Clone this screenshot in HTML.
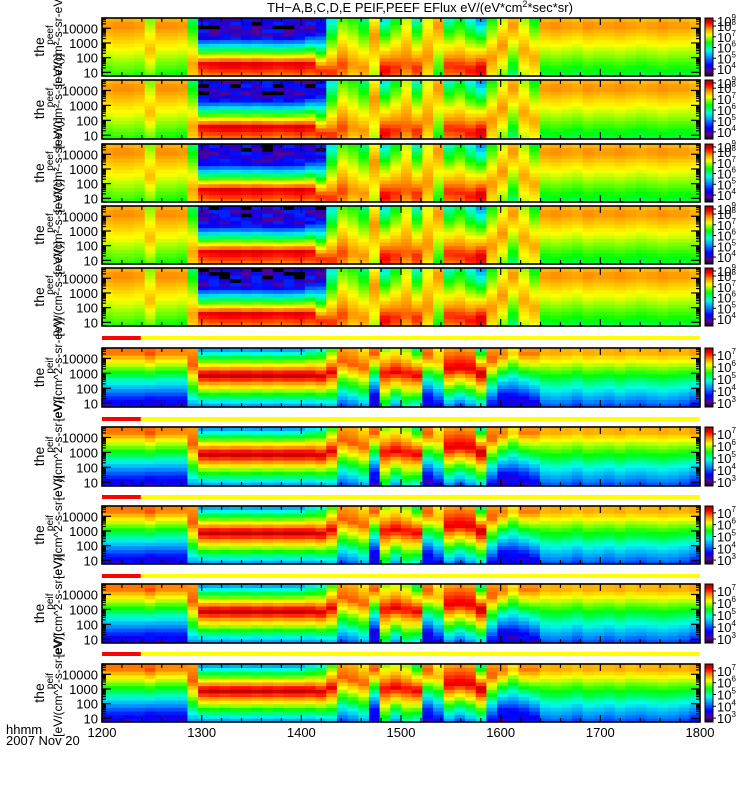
<!DOCTYPE html>
<html><head><meta charset="utf-8">
<style>
html,body{margin:0;padding:0;background:#fff;}
svg{display:block;font-family:"Liberation Sans",sans-serif;}
</style></head>
<body>
<svg id="chart" width="750" height="800" viewBox="0 0 750 800" xmlns="http://www.w3.org/2000/svg">
<text x="420" y="12" font-size="13" text-anchor="middle">TH−A,B,C,D,E PEIF,PEEF EFlux eV/(eV*cm<tspan font-size="9" dy="-5">2</tspan><tspan dy="5">*sec*sr)</tspan></text>
<g id="layers"></g>
<text x="6" y="734" font-size="13">hhmm</text>
<text x="6" y="745" font-size="13">2007 Nov 20</text>
</svg>
<script>
// ---- data ----
const timeStart = 1200, timeEnd = 1800;
const xTickLabels = [1200,1300,1400,1500,1600,1700,1800];
const nCols = 56;
// ion spectra per time column: peak log energy, peak log eflux, low-side slope, high-side slope
const ionPeak = [4.2,4.2,4.2,4.2,2.5,4.2,4.2,4.2,1.6,1.6,1.6,1.6,1.6,1.6,1.6,1.6,1.6,1.6,1.6,1.6,1.2,1.0,1.5,1.5,1.3,3.5,1.2,1.3,1.5,1.3,2.0,4.2,1.5,1.4,1.2,1.3,2.0,2.8,4.2,2.5,2.0,4.2,4.2,4.2,4.2,4.2,4.2,4.2,4.2,4.2,4.2,4.2,4.2,4.2,4.2,4.2];
const ionAmp  = [7.8,7.85,7.85,7.8,7.6,7.85,7.85,7.8,7.7,8.4,8.45,8.5,8.5,8.45,8.5,8.45,8.4,8.45,8.5,8.4,8.2,8.2,8.1,7.8,7.8,7.8,8.4,8.2,8.0,8.2,7.8,7.8,8.2,8.2,8.3,8.5,7.8,7.8,7.8,7.7,7.7,7.8,7.85,7.8,7.75,7.85,7.8,7.8,7.85,7.8,7.75,7.8,7.85,7.8,7.8,7.7];
const ionLow  = [0.37,0.37,0.37,0.37,0.5,0.4,0.4,0.4,0.3,0.75,0.75,0.75,0.75,0.75,0.75,0.75,0.75,0.75,0.75,0.7,0.6,0.6,0.5,0.5,0.5,0.3,0.5,0.5,0.5,0.5,0.4,0.4,0.5,0.5,0.5,0.5,0.4,0.5,0.5,0.4,0.4,0.45,0.45,0.45,0.45,0.45,0.45,0.45,0.45,0.45,0.45,0.45,0.45,0.45,0.45,0.4];
const ionHigh = [0.5,0.5,0.5,0.5,0.35,0.5,0.5,0.5,0.5,2.3,2.3,2.3,2.3,2.3,2.3,2.3,2.3,2.3,2.3,2.0,1.5,0.7,0.45,0.4,0.5,0.5,0.8,0.55,0.3,0.7,0.25,0.5,0.75,0.6,0.75,1.0,0.5,0.4,0.5,0.35,0.5,0.5,0.5,0.5,0.5,0.5,0.5,0.5,0.5,0.5,0.5,0.5,0.5,0.5,0.5,0.5];
// electron spectra per time column
const elePeak = [4.4,4.4,4.4,4.4,4.3,4.4,4.4,4.4,3.5,2.9,2.9,2.9,2.9,2.9,2.9,2.9,2.9,2.9,2.9,2.9,2.8,3.1,3.8,3.6,3.4,4.3,3.0,3.1,3.0,2.9,4.2,3.8,3.3,3.4,3.3,3.0,3.9,4.2,4.3,4.3,4.3,4.4,4.4,4.4,4.4,4.4,4.4,4.4,4.4,4.4,4.4,4.4,4.4,4.4,4.4,4.4];
const eleAmp  = [6.85,6.85,6.85,6.85,6.95,6.8,6.8,6.8,6.9,7.45,7.5,7.45,7.5,7.5,7.45,7.5,7.45,7.5,7.5,7.45,7.4,7.3,6.9,6.9,6.9,6.9,7.2,7.3,7.2,7.3,6.9,6.5,7.3,7.3,7.3,7.5,6.9,6.8,6.4,6.8,6.8,6.6,6.65,6.6,6.55,6.65,6.6,6.6,6.65,6.55,6.6,6.6,6.65,6.6,6.6,6.7];
const eleLow  = [1.0,1.0,1.0,1.0,1.1,1.0,1.0,1.0,0.95,1.5,1.5,1.5,1.5,1.5,1.5,1.5,1.5,1.5,1.5,1.5,1.5,1.2,1.0,1.0,0.95,1.2,0.9,1.3,1.0,1.2,1.2,1.0,1.2,1.3,1.2,1.3,1.1,1.2,1.0,1.1,1.0,0.72,0.72,0.72,0.75,0.72,0.72,0.75,0.72,0.72,0.75,0.72,0.72,0.72,0.75,0.85];
const eleHigh = [0.3,0.3,0.3,0.3,0.3,0.3,0.3,0.3,0.2,1.8,1.8,1.8,1.8,1.8,1.8,1.8,1.8,1.8,1.8,1.6,1.4,1.1,0.3,0.3,0.5,0.3,0.8,0.8,0.8,1.2,0.3,0.3,0.5,0.5,0.5,1.5,0.3,0.3,0.3,0.3,0.3,0.3,0.3,0.3,0.3,0.3,0.3,0.3,0.3,0.3,0.3,0.3,0.3,0.3,0.3,0.3];
const yTickLabels = ["10","100","1000","10000"];
const ionCbarLabels = [4,5,6,7,8,9];
const eleCbarLabels = [3,4,5,6,7];

// ---- layout ----
const X0 = 102, X1 = 700;
const ionPanels = [[18,76],[80,139],[144,202],[206,264],[268,326]];
const elePanels = [[348,407],[427,486],[506,564],[584,643],[664,722]];
const barYs = [336,417,495,574,652];
const eMin = 0.75, eMax = 4.7, nRows = 16;
const ionScale = [3.35, 8.75], eleScale = [2.67, 7.58];

const NS = "http://www.w3.org/2000/svg";
const root = document.getElementById('layers');
function mk(tag, attrs, parent){ const e=document.createElementNS(NS,tag); for(const k in attrs) e.setAttribute(k,attrs[k]); (parent||root).appendChild(e); return e; }
function xScale(t){ return X0 + (t-timeStart)/(timeEnd-timeStart)*(X1-X0); }
function yScale(le, p){ return p[1] - (le-eMin)/(eMax-eMin)*(p[1]-p[0]); }

const stops = [[0,0,0,0],[0.08,90,0,140],[0.2,0,0,255],[0.33,0,140,255],[0.45,0,255,230],[0.58,0,255,0],[0.72,255,255,0],[0.82,255,150,0],[0.92,255,0,0],[1,160,0,0]];
function color(t){
  t=Math.max(0,Math.min(1,t));
  for(let i=1;i<stops.length;i++){ if(t<=stops[i][0]){ const a=stops[i-1],b=stops[i],f=(t-a[0])/(b[0]-a[0]);
    return 'rgb('+Math.round(a[1]+f*(b[1]-a[1]))+','+Math.round(a[2]+f*(b[2]-a[2]))+','+Math.round(a[3]+f*(b[3]-a[3]))+')'; } }
  return 'rgb(160,0,0)';
}
function spec(le, pk, amp, lo, hi){ return le<pk ? amp-lo*(pk-le) : amp-hi*(le-pk); }
const tex = [-0.8, 0.45, 0.0, 0.25, -0.2, 0.55, 0.1];

function drawPanel(p, idx, kind){
  const g = mk('g',{});
  
  
  const isIon = kind==='ion';
  const P = isIon?ionPeak:elePeak, A = isIon?ionAmp:eleAmp, L = isIon?ionLow:eleLow, H = isIon?ionHigh:eleHigh;
  const sc = isIon?ionScale:eleScale;
  const dt = (timeEnd-timeStart)/nCols, de=(eMax-eMin)/nRows;
  for(let i=0;i<nCols;i++){
    const xa = xScale(timeStart+i*dt), xb = xScale(timeStart+(i+1)*dt);
    for(let j=0;j<nRows;j++){
      const le = eMin + (j+0.5)*de;
      let v = spec(le, P[i], A[i], L[i], H[i]);
      if(isIon){ const h=(i*i*3 + j*j*5 + i*j + idx*2 + j)%7; v=Math.max(v, 4.05 + tex[h]); }
      else { const h=(i*5 + j*j*3 + idx)%7; v=Math.max(v, 3.55 + 0.3*tex[h]); }
      const ya = yScale(eMin+(j+1)*de,p), yb = yScale(eMin+j*de,p);
      const r = mk('rect',{x:xa.toFixed(2),y:ya.toFixed(2),width:(xb-xa+0.4).toFixed(2),height:(yb-ya+0.4).toFixed(2),fill:color((v-sc[0])/(sc[1]-sc[0]))},g);
      
      
    }
  }
  const tk = mk('g',{stroke:'#000','stroke-width':1.2},g);
  for(let d=1; d<=4; d++){
    for(let m=1;m<10;m++){
      const le = d + Math.log10(m); if(le<eMin||le>eMax) continue;
      const y = yScale(le,p), len = m===1?9:4;
      mk('line',{x1:X0,y1:y,x2:X0+len,y2:y},tk);
      mk('line',{x1:X1,y1:y,x2:X1-len,y2:y},tk);
    }
  }
  for(let t=timeStart; t<=timeEnd; t+=20){
    const x=xScale(t), len = (t%100===0)?7:4;
    mk('line',{x1:x,y1:p[1],x2:x,y2:p[1]-len},tk);
    mk('line',{x1:x,y1:p[0],x2:x,y2:p[0]+len},tk);
  }
  const fr = mk('rect',{x:X0,y:p[0],width:X1-X0,height:p[1]-p[0],fill:'none',stroke:'#000','stroke-width':1.6},g);
  
  
  yTickLabels.forEach((lab,k)=>{
    const t = mk('text',{x:98,y:(yScale(k+1,p)+5).toFixed(1),'font-size':13,'text-anchor':'end'},g);
    t.textContent = lab;
    
    
  });
  const cy = (p[0]+p[1])/2;
  const yt = mk('g',{transform:'translate(0,'+cy+') rotate(-90)'},g);
  
  
  const t1 = mk('text',{x:0,y:44,'font-size':14,'text-anchor':'middle'},yt); t1.textContent='the';
  const t2 = mk('text',{x:12,y:53,'font-size':10,'text-anchor':'middle'},yt); t2.textContent=isIon?'peef':'peif';
  const t3 = mk('text',{x:8,y:62,'font-size':12,'text-anchor':'middle'},yt); t3.textContent=isIon?'[eV/(cm²-s-sr-eV)]':'[eV/(cm^2-s-sr-eV)]';
  const cb = mk('g',{},g);
  
  
  const N=40;
  for(let k=0;k<N;k++){
    const h=(p[1]-p[0])/N;
    mk('rect',{x:705,y:(p[1]-(k+1)*h).toFixed(2),width:8,height:(h+0.4).toFixed(2),fill:color((k+0.5)/N)},cb);
  }
  mk('rect',{x:705,y:p[0],width:8,height:p[1]-p[0],fill:'none',stroke:'#000','stroke-width':1},cb);
  const labs = isIon?ionCbarLabels:eleCbarLabels;
  labs.forEach(n=>{
    let y = p[1] - (n-sc[0])/(sc[1]-sc[0])*(p[1]-p[0]);
    y = Math.max(y, p[0]+3);
    mk('line',{x1:713,y1:y,x2:716,y2:y,stroke:'#000'},cb);
    const t = mk('text',{x:717,y:(y+5).toFixed(1),'font-size':13},cb);
    
    
    t.textContent='10';
    const s = mk('tspan',{'font-size':8,dy:-6},t); s.textContent=String(n);
  });
}
ionPanels.forEach((p,i)=>drawPanel(p,i,'ion'));
elePanels.forEach((p,i)=>drawPanel(p,i,'electron'));
barYs.forEach((y,i)=>{
  const r = mk('rect',{x:X0,y:y,width:xScale(1239)-X0,height:4,fill:'#ff0000'});
  
  
  const yb = mk('rect',{x:xScale(1239),y:y,width:X1-xScale(1239),height:4,fill:'#ffff00'});
  
  
});
xTickLabels.forEach(v=>{
  const t = mk('text',{x:xScale(v),y:737,'font-size':13,'text-anchor':'middle'});
  
  
  t.textContent = v;
});
</script>
</body></html>
